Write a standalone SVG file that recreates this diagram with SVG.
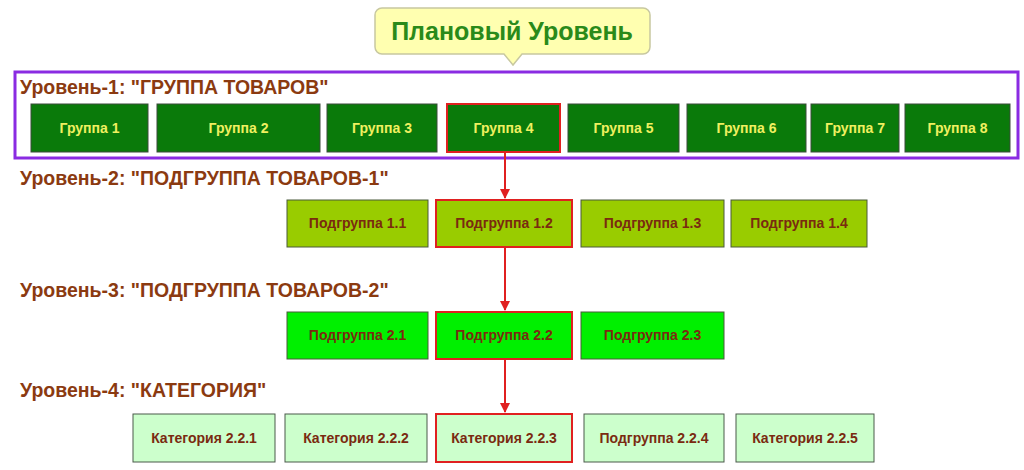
<svg xmlns="http://www.w3.org/2000/svg" width="1024" height="470" viewBox="0 0 1024 470">
<style>
text{font-family:"Liberation Sans",Arial,sans-serif;font-weight:bold;text-anchor:middle}
.lvl{font-size:19.5px;fill:#8b3a10;text-anchor:start}
.g rect{fill:#0a7a0a;stroke:#3a4a3a;stroke-width:1}
.g text{fill:#f0f060;font-size:14px}
.s1 rect{fill:#99cc00;stroke:#4a5a3a;stroke-width:1}
.s2 rect{fill:#00f000;stroke:#4a5a3a;stroke-width:1}
.c rect{fill:#ccffcc;stroke:#4a5a4a;stroke-width:1}
.s1 text,.s2 text,.c text{fill:#7a2a10;font-size:14px}
.sel rect{stroke:#e02020;stroke-width:2}
.ar{stroke:#e02020;stroke-width:2;fill:none;marker-end:url(#ah)}
</style>
<defs><marker id="ah" viewBox="0 0 10 10" refX="9" refY="5" markerWidth="5" markerHeight="5" orient="auto"><path d="M0,0L10,5L0,10z" fill="#e02020"/></marker></defs>
<g id="title"><path d="M382,8H643a7,7 0 0 1 7,7V47a7,7 0 0 1-7,7H522L513,65L504,54H382a7,7 0 0 1-7-7V15a7,7 0 0 1 7-7z" fill="#ffffb0" stroke="#c8c8a0" stroke-width="1.5"/>
<text x="512" y="40" style="font-size:25px;fill:#2a8a1a">Плановый Уровень</text></g>
<rect x="15" y="72" width="1003" height="86" fill="none" stroke="#8a2be2" stroke-width="3"/>
<text class="lvl" x="20" y="94">Уровень-1: "ГРУППА ТОВАРОВ"</text>
<text class="lvl" x="20" y="185">Уровень-2: "ПОДГРУППА ТОВАРОВ-1"</text>
<text class="lvl" x="20" y="297">Уровень-3: "ПОДГРУППА ТОВАРОВ-2"</text>
<text class="lvl" x="20" y="397">Уровень-4: "КАТЕГОРИЯ"</text>
<g id="g1" class="g"><rect x="31" y="104" width="117" height="48"/><text x="89.5" y="133">Группа 1</text></g>
<g id="g2" class="g"><rect x="157" y="104" width="163" height="48"/><text x="238.5" y="133">Группа 2</text></g>
<g id="g3" class="g"><rect x="327" y="104" width="110" height="48"/><text x="382" y="133">Группа 3</text></g>
<g id="g4" class="g sel"><rect x="447" y="104" width="113" height="48"/><text x="503.5" y="133">Группа 4</text></g>
<g id="g5" class="g"><rect x="568" y="104" width="111" height="48"/><text x="623.5" y="133">Группа 5</text></g>
<g id="g6" class="g"><rect x="687" y="104" width="119" height="48"/><text x="746.5" y="133">Группа 6</text></g>
<g id="g7" class="g"><rect x="811" y="104" width="88" height="48"/><text x="855" y="133">Группа 7</text></g>
<g id="g8" class="g"><rect x="905" y="104" width="105" height="48"/><text x="957.5" y="133">Группа 8</text></g>
<g id="s11" class="s1"><rect x="287" y="200" width="141" height="47"/><text x="357.5" y="228">Подгруппа 1.1</text></g>
<g id="s12" class="s1 sel"><rect x="436" y="200" width="136" height="47"/><text x="504" y="228">Подгруппа 1.2</text></g>
<g id="s13" class="s1"><rect x="581" y="200" width="143" height="47"/><text x="652.5" y="228">Подгруппа 1.3</text></g>
<g id="s14" class="s1"><rect x="731" y="200" width="136" height="47"/><text x="799" y="228">Подгруппа 1.4</text></g>
<g id="s21" class="s2"><rect x="287" y="312" width="141" height="47"/><text x="357.5" y="340">Подгруппа 2.1</text></g>
<g id="s22" class="s2 sel"><rect x="436" y="312" width="136" height="47"/><text x="504" y="340">Подгруппа 2.2</text></g>
<g id="s23" class="s2"><rect x="581" y="312" width="143" height="47"/><text x="652.5" y="340">Подгруппа 2.3</text></g>
<g id="c1" class="c"><rect x="133" y="414" width="142" height="48"/><text x="204" y="443">Категория 2.2.1</text></g>
<g id="c2" class="c"><rect x="285" y="414" width="142" height="48"/><text x="356" y="443">Категория 2.2.2</text></g>
<g id="c3" class="c sel"><rect x="436" y="414" width="136" height="48"/><text x="504" y="443">Категория 2.2.3</text></g>
<g id="c4" class="c"><rect x="584" y="414" width="140" height="48"/><text x="654" y="443">Подгруппа 2.2.4</text></g>
<g id="c5" class="c"><rect x="736" y="414" width="138" height="48"/><text x="805" y="443">Категория 2.2.5</text></g>
<g id="connectors">
<path class="ar" d="M505,153V198"/>
<path class="ar" d="M505,248V310"/>
<path class="ar" d="M505,360V412"/>
</g>
</svg>
